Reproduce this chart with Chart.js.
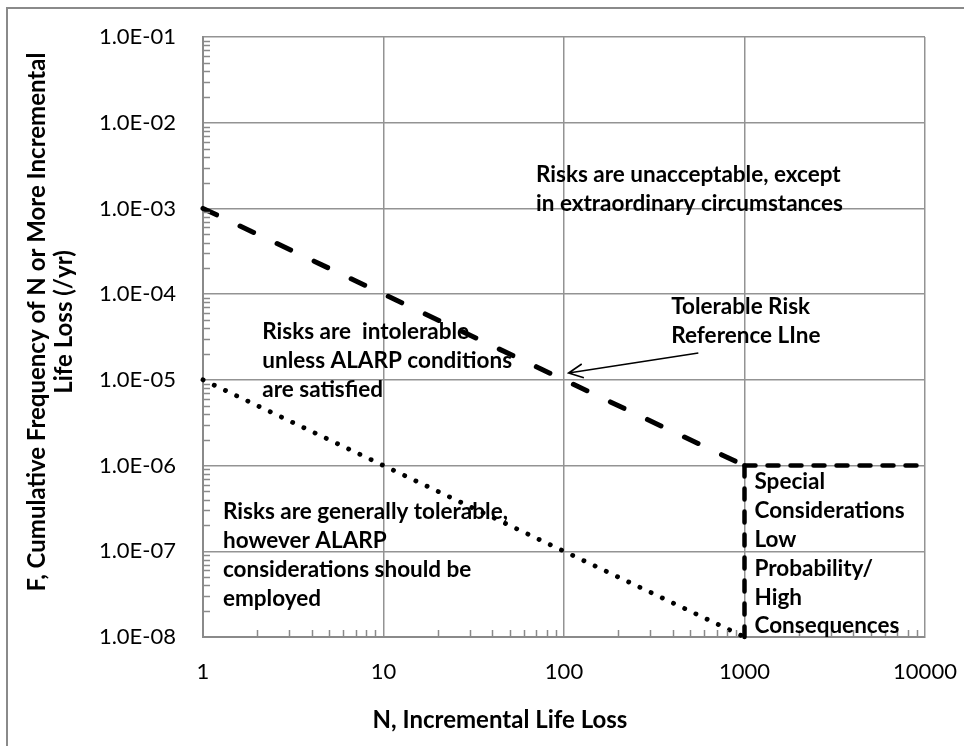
<!DOCTYPE html>
<html>
<head>
<meta charset="utf-8">
<script src="https://cdn.jsdelivr.net/npm/chart.js@4.4.1/dist/chart.umd.min.js"></script>
<style>
  html, body { margin: 0; padding: 0; background: #fff; }
  #fn { display: block; }
</style>
</head>
<body>
<canvas id="fn" width="964" height="746"></canvas>
<script>
// tolerable risk reference line (sloped part, then the cap at 1e-6)
const refN = [1, 1000];
const refF = [1e-3, 1e-6];
const capN = [1000, 10000];
const capF = [1e-6, 1e-6];
// special considerations boundary at N = 1000
const specN = [1000, 1000];
const specF = [1e-6, 1e-8];
// lower (negligible) line
const lowN = [1, 1000];
const lowF = [1e-5, 1e-8];

const xTicks = [1, 10, 100, 1000, 10000];
const xTickLabels = ["1", "10", "100", "1000", "10000"];
const yTicks = [1e-8, 1e-7, 1e-6, 1e-5, 1e-4, 1e-3, 1e-2, 1e-1];
const yTickLabels = ["1.0E-08", "1.0E-07", "1.0E-06", "1.0E-05", "1.0E-04", "1.0E-03", "1.0E-02", "1.0E-01"];

const pts = (xs, ys) => xs.map((x, i) => ({ x: x, y: ys[i] }));

const AXIS = "#8a8a8a";
const GRID = "#939393";

// region notes, anchored in data coords (left edge, first line)
const notes = [
  { n: 70, f: 2.45e-3, lines: ["Risks are unacceptable, except", "in extraordinary circumstances"] },
  { n: 393, f: 7.1e-5, lines: ["Tolerable Risk", "Reference LIne"] },
  { n: 2.13, f: 3.6e-5, lines: ["Risks are  intolerable", "unless ALARP conditions", "are satisfied"] },
  { n: 1.29, f: 2.87e-7, lines: ["Risks are generally tolerable,", "however ALARP", "considerations should be", "employed"] },
  { n: 1136, f: 6.4e-7, lines: ["Special", "Considerations", "Low", "Probability/", "High", "Consequences"] }
];

// keep the tick padding from pushing the plot area inwards
const noPad = s => { s.paddingTop = 0; s.paddingBottom = 0; s.paddingLeft = 0; s.paddingRight = 0; };

const decor = {
  id: "decor",
  beforeDraw(chart) {
    const ctx = chart.ctx;
    ctx.save();
    ctx.fillStyle = "#fff";
    ctx.fillRect(0, 0, chart.width, chart.height);
    ctx.strokeStyle = AXIS;
    ctx.lineWidth = 2;
    ctx.strokeRect(7, 8, chart.width + 20, chart.height + 20);
    ctx.restore();
  },
  afterDraw(chart) {
    const ctx = chart.ctx;
    const xs = chart.scales.x, ys = chart.scales.y;
    const area = chart.chartArea;
    ctx.save();

    // minor ticks inside the plot
    ctx.strokeStyle = AXIS;
    ctx.lineWidth = 1.5;
    ctx.beginPath();
    for (let d = 1e-8; d < 1e-1; d *= 10) {
      for (let k = 2; k <= 9; k++) {
        const py = Math.round(ys.getPixelForValue(d * k)) + 0.5;
        ctx.moveTo(area.left, py);
        ctx.lineTo(area.left + 7, py);
      }
    }
    for (let d = 1; d < 10000; d *= 10) {
      for (let k = 2; k <= 9; k++) {
        const px = Math.round(xs.getPixelForValue(d * k)) + 0.5;
        ctx.moveTo(px, area.bottom);
        ctx.lineTo(px, area.bottom - 7);
      }
    }
    ctx.stroke();

    // notes
    ctx.fillStyle = "#000";
    ctx.font = "bold 22.5px Lato";
    ctx.textAlign = "left";
    ctx.textBaseline = "middle";
    notes.forEach(nt => {
      const x0 = xs.getPixelForValue(nt.n);
      const y0 = ys.getPixelForValue(nt.f);
      nt.lines.forEach((t, i) => ctx.fillText(t, x0, y0 + i * 28.8));
    });

    // arrow to the reference line
    const ax = xs.getPixelForValue(555), ay = ys.getPixelForValue(2.06e-5);
    const tx = xs.getPixelForValue(106), ty = ys.getPixelForValue(1.2e-5);
    const ang = Math.atan2(ty - ay, tx - ax);
    ctx.strokeStyle = "#000";
    ctx.lineWidth = 1.6;
    ctx.beginPath();
    ctx.moveTo(ax, ay);
    ctx.lineTo(tx, ty);
    ctx.moveTo(tx - 16 * Math.cos(ang - 0.45), ty - 16 * Math.sin(ang - 0.45));
    ctx.lineTo(tx, ty);
    ctx.lineTo(tx - 16 * Math.cos(ang + 0.45), ty - 16 * Math.sin(ang + 0.45));
    ctx.stroke();

    // axis titles
    ctx.font = "bold 24px Lato";
    ctx.textAlign = "center";
    ctx.fillText("N, Incremental Life Loss", 500, 720);
    ctx.translate(37, 322);
    ctx.rotate(-Math.PI / 2);
    ctx.fillText("F, Cumulative Frequency of N or More Incremental", 0, 0);
    ctx.fillText("Life Loss (/yr)", 0, 27);
    ctx.restore();
  }
};

new Chart(document.getElementById("fn"), {
  type: "scatter",
  data: {
    datasets: [
      {
        data: pts(refN, refF),
        showLine: true, borderColor: "#000", borderWidth: 5,
        borderDash: [15, 26], borderCapStyle: "round",
        pointRadius: 0, clip: false
      },
      {
        data: pts(capN, capF),
        showLine: true, borderColor: "#000", borderWidth: 4.5,
        borderDash: [11, 12], borderCapStyle: "round",
        pointRadius: 0, clip: false
      },
      {
        data: pts(specN, specF),
        showLine: true, borderColor: "#000", borderWidth: 4.5,
        borderDash: [11, 12], borderCapStyle: "round",
        pointRadius: 0, clip: false
      },
      {
        data: pts(lowN, lowF),
        showLine: true, borderColor: "#000", borderWidth: 4.8,
        borderDash: [0.1, 12.3], borderCapStyle: "round",
        pointRadius: 0, clip: false
      }
    ]
  },
  options: {
    responsive: false,
    devicePixelRatio: 1,
    animation: false,
    layout: { padding: { top: 37, right: 39, left: 0, bottom: 0 } },
    plugins: { legend: { display: false }, tooltip: { enabled: false } },
    scales: {
      x: {
        type: "logarithmic",
        min: 1, max: 10000,
        afterBuildTicks: s => { s.ticks = xTicks.map(v => ({ value: v })); },
        afterFit: s => { s.height = 109; noPad(s); },
        grid: { color: GRID, lineWidth: 1.5, drawTicks: false },
        border: { color: AXIS, width: 2 },
        ticks: {
          padding: 22, color: "#000", maxRotation: 0, autoSkip: false,
          font: { family: "Lato", size: 22 },
          callback: (v, i) => xTickLabels[i]
        }
      },
      y: {
        type: "logarithmic",
        min: 1e-8, max: 1e-1,
        afterBuildTicks: s => { s.ticks = yTicks.map(v => ({ value: v })); },
        afterFit: s => { s.width = 203; noPad(s); },
        grid: { color: GRID, lineWidth: 1.5, drawTicks: false },
        border: { color: AXIS, width: 2 },
        ticks: {
          padding: 27, color: "#000", autoSkip: false,
          font: { family: "Lato", size: 22 },
          callback: (v, i) => yTickLabels[i]
        }
      }
    }
  },
  plugins: [decor]
});
</script>
</body>
</html>
